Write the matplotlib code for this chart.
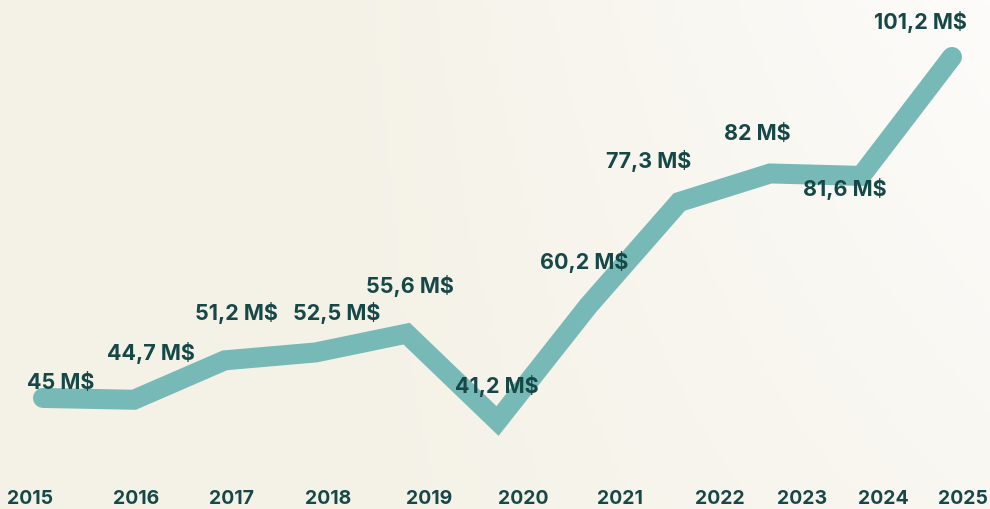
import numpy as np
import matplotlib
matplotlib.use("Agg")
import matplotlib.pyplot as plt

# revenus annuels (M$)
annees = ["2015", "2016", "2017", "2018", "2019", "2020",
          "2021", "2022", "2023", "2024", "2025"]
valeurs = [45, 44.7, 51.2, 52.5, 55.6, 41.2, 60.2, 77.3, 82, 81.6, 101.2]
etiquettes = ["45 M$", "44,7 M$", "51,2 M$", "52,5 M$", "55,6 M$", "41,2 M$",
              "60,2 M$", "77,3 M$", "82 M$", "81,6 M$", "101,2 M$"]

# decalage des etiquettes (pixels) par rapport au point
dx = [18, 17, 12, 21, 3, -1, -4, -31, -13, -16, -32]
dy = [16, 48, 48, 40, 49, 36, 45, 42, 40, -12, 36]

# position des annees sur l'axe (en pixels)
pos_annees = [30, 136, 232, 328, 429, 523, 620, 720, 802, 883, 963]

COULEUR_LIGNE = "#76b9b6"
COULEUR_TEXTE = "#174848"
POLICE = "Inter"

fig = plt.figure(figsize=(9.9, 5.1), dpi=100)
ax = fig.add_axes([0, 0, 1, 1])

# echelle : x=0 -> 43 px, pas 90.9 px ; y=41.2 -> 422 px, 6.067 px par M$
pas = 90.9
x0 = 43
ax.set_xlim(-x0 / pas, (990 - x0) / pas)
ax.set_ylim(41.2 - 88 / 6.067, 41.2 + 422 / 6.067)
ax.axis("off")

# fond en degrade
gx, gy = np.meshgrid(np.linspace(0, 1, 200), np.linspace(0, 1, 100))
t = np.clip((gx - 0.3) / 0.7 * (0.55 + 0.45 * gy), 0, 1)
c1 = np.array([0xf4, 0xf1, 0xe6]) / 255
c2 = np.array([0xfd, 0xfc, 0xfa]) / 255
img = c1[None, None, :] * (1 - t[..., None]) + c2[None, None, :] * t[..., None]
ax.imshow(img, extent=[0, 1, 0, 1], origin="lower", transform=ax.transAxes,
          aspect="auto", zorder=0)

x = np.arange(len(valeurs))
ax.plot(x, valeurs, color=COULEUR_LIGNE, lw=14.4, solid_capstyle="round",
        solid_joinstyle="miter", zorder=2)

for i, (v, lab) in enumerate(zip(valeurs, etiquettes)):
    ax.annotate(lab, (x[i], v), xytext=(dx[i] * 0.72, dy[i] * 0.72),
                textcoords="offset points", ha="center", va="center",
                fontsize=15.5, fontweight="bold", family=POLICE,
                color=COULEUR_TEXTE, zorder=3)

for p, a in zip(pos_annees, annees):
    fig.text(p / 990, 1 - 499 / 510, a, ha="center", va="center",
             fontsize=14, fontweight="bold", family=POLICE,
             color=COULEUR_TEXTE)

fig.savefig("out.png", dpi=100)
